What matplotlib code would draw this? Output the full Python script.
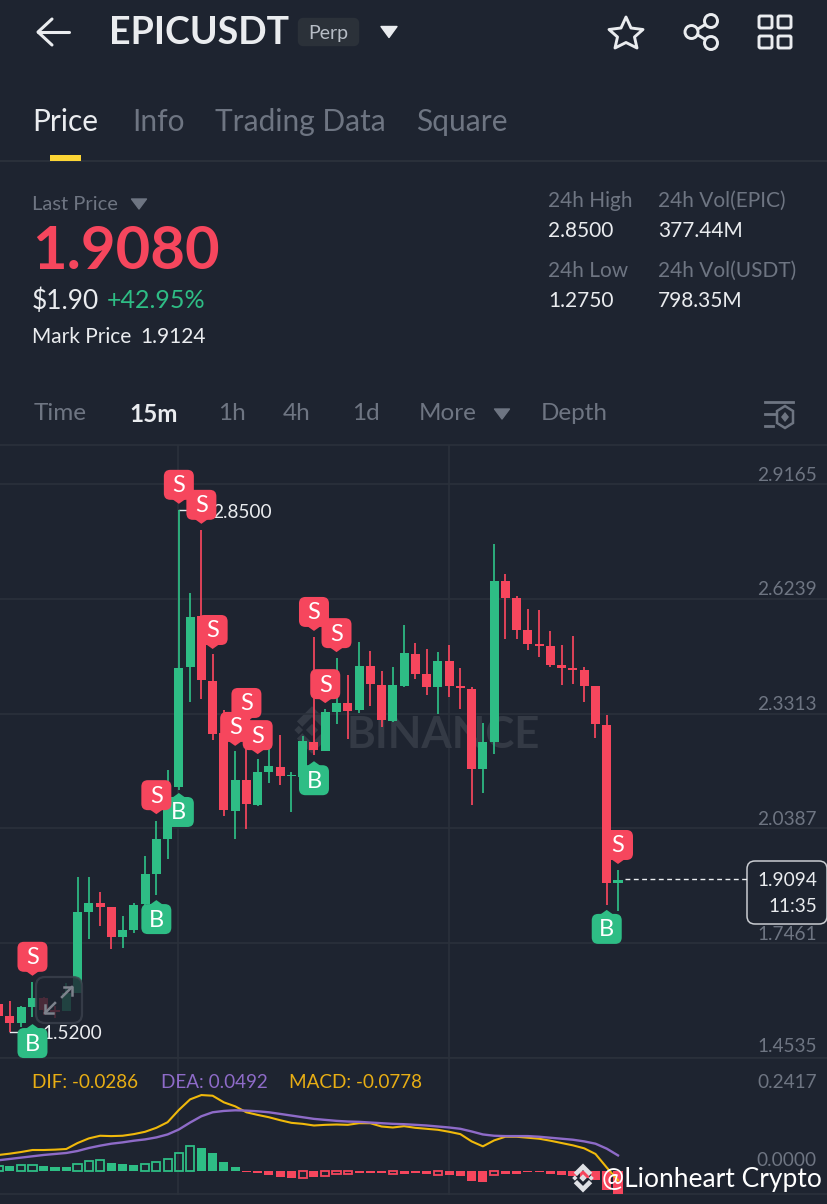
import matplotlib
matplotlib.use("Agg")
import matplotlib.pyplot as plt
from matplotlib.patches import FancyBboxPatch, Polygon, Circle, Rectangle

plt.rcParams['font.family'] = ['Lato', 'DejaVu Sans']

# ---------- data ----------
opens = [1.591,1.561,1.543,1.583,1.606,1.576,1.573,1.619,1.826,1.849,1.838,1.762,1.780,1.846,1.922,2.012,
         2.144,2.450,2.580,2.414,2.282,2.083,2.162,2.098,2.182,2.195,2.172,2.170,2.259,2.236,2.335,2.358,
         2.340,2.453,2.404,2.312,2.402,2.483,2.432,2.399,2.465,2.402,2.394,2.190,2.259,2.669,2.626,2.544,
         2.509,2.504,2.455,2.448,2.442,2.402,2.302,1.900]
highs = [1.601,1.599,1.586,1.647,1.609,1.586,1.645,1.915,1.915,1.877,1.838,1.815,1.849,1.968,2.058,2.188,
         2.850,2.639,2.799,2.483,2.340,2.236,2.264,2.216,2.246,2.277,2.182,2.274,2.527,2.343,2.473,2.430,
         2.514,2.491,2.440,2.450,2.557,2.511,2.496,2.488,2.506,2.448,2.399,2.307,2.764,2.687,2.631,2.598,
         2.595,2.542,2.506,2.529,2.450,2.402,2.328,1.933]
lows = [1.550,1.520,1.533,1.558,1.563,1.555,1.573,1.619,1.757,1.790,1.731,1.734,1.772,1.838,1.869,1.961,
        2.137,2.361,2.369,2.264,2.070,2.012,2.037,2.096,2.154,2.149,2.081,2.170,2.226,2.236,2.305,2.267,
        2.333,2.351,2.297,2.310,2.399,2.420,2.379,2.330,2.374,2.343,2.098,2.129,2.228,2.521,2.521,2.493,
        2.476,2.450,2.404,2.407,2.361,2.269,1.843,1.828]
closes = [1.561,1.543,1.583,1.606,1.576,1.571,1.619,1.826,1.849,1.838,1.762,1.780,1.843,1.922,2.012,2.106,
          2.448,2.577,2.417,2.279,2.086,2.162,2.101,2.182,2.198,2.172,2.176,2.261,2.238,2.335,2.358,2.338,
          2.453,2.407,2.315,2.404,2.486,2.432,2.399,2.465,2.402,2.397,2.190,2.259,2.669,2.626,2.544,2.509,
          2.504,2.455,2.448,2.442,2.402,2.305,1.900,1.907]

dif = [.0506,.0548,.0599,.0661,.0661,.0672,.0692,.0878,.1023,.1106,.1095,.1106,.1157,.1230,.1354,.1529,
       .1912,.2242,.2377,.2356,.2149,.2025,.1839,.1757,.1684,.1591,.1509,.1478,.1426,.1447,.1457,.1447,
       .1498,.1498,.1395,.1364,.1405,.1354,.1323,.1292,.1230,.1157,.0930,.0775,.0961,.1075,.1075,.1044,
       .1013,.0951,.0878,.0806,.0713,.0537,.0114,-.0286]
dea = [.0341,.0382,.0424,.0465,.0506,.0537,.0568,.0630,.0723,.0796,.0858,.0899,.0951,.0992,.1054,.1147,
       .1302,.1519,.1715,.1839,.1881,.1901,.1891,.1870,.1839,.1788,.1736,.1684,.1633,.1602,.1571,.1550,
       .1540,.1519,.1498,.1478,.1467,.1447,.1426,.1395,.1364,.1323,.1240,.1147,.1106,.1095,.1095,.1095,
       .1075,.1044,.1013,.0982,.0930,.0858,.0703,.0492]
macd = [.0175,.0175,.0196,.0196,.0165,.0134,.0134,.0237,.0319,.0350,.0268,.0227,.0206,.0227,.0288,.0381,
        .0577,.0772,.0711,.0556,.0278,.0134,-.0041,-.0072,-.0113,-.0175,-.0206,-.0206,-.0175,-.0144,-.0103,-.0103,
        -.0072,-.0052,-.0052,-.0103,-.0082,-.0052,-.0082,-.0113,-.0113,-.0155,-.0309,-.0350,-.0134,-.0093,-.0082,-.0041,
        -.0041,-.0082,-.0113,-.0144,-.0206,-.0288,-.0577,-.0778]
macd_hollow = [0,2,3,7,8,9,13,14,15,16,17,27,29,30,31,35,39,44]

price_ticks = [2.9165, 2.6239, 2.3313, 2.0387, 1.7461, 1.4535]
macd_ticks = [0.2417, 0.0]

sell_idx = [16, 18, 19, 22, 21, 23, 14, 3, 28, 30, 29, 55]
sell_price = [2.866, 2.815, 2.496, 2.310, 2.249, 2.228, 2.075, 1.663, 2.542, 2.488, 2.358, 1.948]
buy_idx = [16, 14, 28, 54, 3]
buy_price = [2.129, 1.856, 2.210, 1.831, 1.540]

high_idx, high_val = 16, 2.85
low_idx, low_val = 1, 1.52
last_price = 1.9094

# ---------- style ----------
BG = '#1e2430'
GRID = '#2b313b'
RED = '#f6465d'
GREEN = '#2ebd85'
GRAY = '#6e7582'
WHITE = '#eaecef'
W, H = 828, 1204

fig = plt.figure(figsize=(W/100, H/100), dpi=100, facecolor=BG)

def axpx(top, bottom, z):
    a = fig.add_axes([0, 1-bottom/H, 1, (bottom-top)/H], zorder=z)
    a.patch.set_alpha(0)
    a.set_xticks([]); a.set_yticks([])
    for s in a.spines.values():
        s.set_visible(False)
    return a

base = axpx(0, H, 0)
base.set_xlim(0, W); base.set_ylim(H, 0)
ax = axpx(446, 1058, 1)
mx = axpx(1059, 1194, 1)
ov = axpx(0, H, 3)
ov.set_xlim(0, W); ov.set_ylim(H, 0)

XL = (0.1155, 73.65)
ax.set_xlim(*XL); ax.set_ylim(1.4535, 3.0134)
mx.set_xlim(*XL); mx.set_ylim(-0.0713, 0.3503)

# ---------- UI text helper ----------
def T(x, y, s, size, color=WHITE, weight='normal', ha='left', a=None):
    (a or ov).text(x, y+2, s, fontsize=size, color=color, weight=weight, ha=ha, va='center')

def tri(x, y, w, h, color, a=None):
    (a or ov).add_patch(Polygon([(x-w/2, y-h/2), (x+w/2, y-h/2), (x, y+h/2)], closed=True, fc=color, ec=color, lw=1, joinstyle='round'))

def logo(a, cx, cy, s, color, alpha=1.0, z=2):
    def dia(x, y, r):
        a.add_patch(Polygon([(x-r, y), (x, y-r), (x+r, y), (x, y+r)], closed=True, fc=color, ec='none', alpha=alpha, zorder=z))
    dia(cx, cy, s*.17); dia(cx-s*.37, cy, s*.12); dia(cx+s*.37, cy, s*.12)
    for sgn in (-1, 1):
        a.add_patch(Polygon([(cx-s*.42, cy+sgn*s*.24), (cx, cy+sgn*s*.66), (cx+s*.42, cy+sgn*s*.24),
                             (cx+s*.27, cy+sgn*s*.09), (cx, cy+sgn*s*.36), (cx-s*.27, cy+sgn*s*.09)],
                            closed=True, fc=color, ec='none', alpha=alpha, zorder=z))

# ---------- header ----------
ov.plot([38, 69], [32, 32], color=WHITE, lw=2.2, solid_capstyle='round')
ov.plot([52, 38, 52], [19, 32, 45], color=WHITE, lw=2.2, solid_capstyle='round', solid_joinstyle='round')
T(109, 31, 'EPICUSDT', 27, WHITE, 'bold')
ov.add_patch(FancyBboxPatch((302, 22), 53, 20, boxstyle='round,pad=0,rounding_size=1', fc='#2b3139', ec='#2b3139', lw=6, joinstyle='round'))
T(328.5, 31, 'Perp', 14, '#b7bdc6', ha='center')
tri(389, 32, 16, 11, WHITE)
star = [(626, 17), (631, 28), (643, 29.5), (634.5, 37), (637, 48), (626, 42.5), (615, 48), (617.5, 37), (609, 29.5), (621, 28)]
ov.add_patch(Polygon(star, closed=True, fc='none', ec=WHITE, lw=2.1, joinstyle='round'))
ov.plot([693, 711], [32, 21], color=WHITE, lw=2.1)
ov.plot([693, 711], [32, 43], color=WHITE, lw=2.1)
for cx, cy, r in [(691.5, 32, 6.5), (711, 21, 6.5), (711, 43, 6.5)]:
    ov.add_patch(Circle((cx, cy), r, fc=BG, ec=WHITE, lw=2.1, zorder=3))
for gx, gy in [(759, 16), (778, 16), (759, 36), (778, 36)]:
    ov.add_patch(FancyBboxPatch((gx, gy), 13, 12, boxstyle='round,pad=0,rounding_size=1.5', fc='none', ec=WHITE, lw=2.1))

T(32, 120, 'Price', 21.5, WHITE)
T(132, 120, 'Info', 21.5, GRAY)
T(215, 120, 'Trading Data', 21.5, GRAY)
T(416, 120, 'Square', 21.5, GRAY)
ov.add_patch(Rectangle((50, 155), 31, 5.5, fc='#fcd535', ec='none'))
base.plot([0, W], [161, 161], color=GRID, lw=1.4)

T(32, 202, 'Last Price', 14.5, GRAY)
tri(139, 204, 15, 10, GRAY)
T(32, 250, '1.9080', 43, RED, 'bold')
T(32, 299, '$1.90', 19, WHITE)
T(107, 299, '+42.95%', 18, GREEN)
T(32, 335, 'Mark Price', 15, WHITE)
T(140, 335, '1.9124', 15, WHITE)
for x, y, s, c in [(548, 199, '24h High', GRAY), (548, 229, '2.8500', WHITE), (548, 269, '24h Low', GRAY), (548, 299, '1.2750', WHITE),
                   (658, 199, '24h Vol(EPIC)', GRAY), (658, 229, '377.44M', WHITE), (658, 269, '24h Vol(USDT)', GRAY), (658, 299, '798.35M', WHITE)]:
    T(x, y, s, 15, c)

for x, s, c, wt in [(34, 'Time', GRAY, 'normal'), (129, '15m', WHITE, 'bold'), (218, '1h', GRAY, 'normal'), (283, '4h', GRAY, 'normal'),
                    (352, '1d', GRAY, 'normal'), (419, 'More', GRAY, 'normal'), (541, 'Depth', GRAY, 'normal')]:
    T(x, 412, s, 17.5, c, wt)
tri(502, 414, 15, 10, GRAY)
ov.plot([765, 793], [402, 402], color=GRAY, lw=2)
ov.plot([765, 776], [414, 414], color=GRAY, lw=2)
ov.plot([765, 773], [426, 426], color=GRAY, lw=2)
ov.add_patch(Polygon([(785, 406), (793, 411), (793, 423), (785, 428), (777, 423), (777, 411)], closed=True, fc=BG, ec=GRAY, lw=1.8, zorder=3))
ov.add_patch(Polygon([(785, 412), (789, 417), (785, 422), (781, 417)], closed=True, fc=GRAY, ec='none', zorder=4))

# ---------- frame and grid ----------
base.plot([0, W], [445, 445], color=GRID, lw=1.2)
base.plot([0, W], [1058, 1058], color=GRID, lw=1.2)
base.plot([0, W], [1194, 1194], color=GRID, lw=1.2)
for vx in (178.5, 449):
    base.plot([vx, vx], [446, 1194], color=GRID, lw=1.2)

for i, p in enumerate(price_ticks):
    ax.axhline(p, color=GRID, lw=1.2, zorder=0.5)
    off = 11 if i == 5 else 9
    ax.annotate(f'{p:.4f}', xy=(1, p), xycoords=('axes fraction', 'data'), xytext=(-11*.72, off*.72), textcoords='offset points',
                ha='right', va='center', fontsize=13.7, color=GRAY, annotation_clip=False)
for v in macd_ticks:
    mx.annotate(f'{v:.4f}', xy=(1, v), xycoords=('axes fraction', 'data'), xytext=(-11*.72, 11*.72), textcoords='offset points',
                ha='right', va='center', fontsize=13.7, color=GRAY, annotation_clip=False)

# ---------- watermark ----------
logo(base, 312, 730, 36, '#343a45')
base.text(347, 735, 'BINANCE', fontsize=31.5, weight='bold', color='#343a45', ha='left', va='center')

# ---------- candles ----------
idx = list(range(len(opens)))
cols = [GREEN if c >= o else RED for o, c in zip(opens, closes)]
ax.vlines(idx, lows, highs, colors=cols, lw=1.25, zorder=2)
ax.bar(idx, [abs(c-o) for o, c in zip(opens, closes)], bottom=[min(o, c) for o, c in zip(opens, closes)],
       width=0.8, color=cols, linewidth=0, zorder=3)

# ---------- high / low labels ----------
ax.plot([high_idx, high_idx+2.4], [high_val, high_val], color=WHITE, lw=1, zorder=1.5)
ax.annotate(f'{high_val:.4f}', xy=(high_idx, high_val), xytext=(33*.72, -2), textcoords='offset points', color=WHITE, fontsize=13.7, va='center', zorder=1.5)
ax.plot([low_idx, low_idx+2.5], [low_val, low_val], color=WHITE, lw=1, zorder=1.5)
ax.annotate(f'{low_val:.4f}', xy=(low_idx, low_val), xytext=(32*.72, -1.5), textcoords='offset points', color=WHITE, fontsize=13.7, va='center', zorder=1.5)

# ---------- MACD ----------
mx.plot(idx, dif, color='#f0b90b', lw=1.5, zorder=3)
mx.plot(idx, dea, color='#8e6bc8', lw=1.7, zorder=3)
for i, v in enumerate(macd):
    c = GREEN if v >= 0 else RED
    if i in macd_hollow:
        mx.bar(i, v, width=0.72, fc='none', ec=c, lw=1.3, zorder=2)
    else:
        mx.bar(i, v, width=0.8, color=c, lw=0, zorder=2)
T(32, 1080, 'DIF: -0.0286', 13.6, '#e8ae14')
T(161, 1080, 'DEA: 0.0492', 13.6, '#8e6bc8')
T(289, 1080, 'MACD: -0.0778', 13.6, '#e8ae14')

# ---------- zoom button ----------
ov.add_patch(FancyBboxPatch((36, 977), 46, 46, boxstyle='round,pad=0,rounding_size=9', fc=BG, ec='#3c424d', lw=1.6, alpha=0.8, zorder=2))
AC = '#7d828c'
ov.plot([55, 45], [1003, 1013], color=AC, lw=1.8, zorder=2.1)
ov.plot([45, 45, 53], [1005, 1013, 1013], color=AC, lw=1.8, zorder=2.1)
ov.plot([62, 72], [997, 987], color=AC, lw=1.8, zorder=2.1)
ov.plot([64, 72, 72], [987, 987, 995], color=AC, lw=1.8, zorder=2.1)

# ---------- trade markers ----------
def marker(i, price, kind):
    xd, yd = ax.transData.transform((i, price))
    px, py = xd, H - yd
    col = RED if kind == 'S' else GREEN
    sgn = 1 if kind == 'S' else -1
    cy = py - sgn*19
    ov.add_patch(FancyBboxPatch((px-15, cy-15), 30, 30, boxstyle='round,pad=0,rounding_size=6.5', fc=col, ec='none', zorder=5))
    ov.add_patch(Polygon([(px-7, cy+sgn*14), (px+7, cy+sgn*14), (px, py)], closed=True, fc=col, ec='none', zorder=5))
    ov.text(px, cy+1, kind, fontsize=17, color='white', ha='center', va='center', zorder=5)

for i, p in zip(sell_idx, sell_price):
    if i not in (14, 3):
        marker(i, p, 'S')
for i, p in zip(buy_idx, buy_price):
    marker(i, p, 'B')
for i, p in zip(sell_idx, sell_price):
    if i in (14, 3):
        marker(i, p, 'S')

# ---------- last price ----------
xl, yl = ax.transData.transform((55, last_price))
ypx = H - yl
ov.plot([xl+7, 747], [ypx, ypx], color=WHITE, lw=1, dashes=(3.5, 2.5))
ov.add_patch(FancyBboxPatch((747, 861), 80, 63, boxstyle='round,pad=0,rounding_size=8', fc=BG, ec='#c9ccd1', lw=1.1))
T(817, 878, f'{last_price:.4f}', 13.7, WHITE, ha='right')
T(817, 904, '11:35', 13.7, WHITE, ha='right')

# ---------- corner credit ----------
logo(ov, 583, 1178, 22, '#dfe1e5', z=6)
ov.text(602, 1180, '@Lionheart Crypto', fontsize=19, color='white', ha='left', va='center', zorder=6)

fig.savefig('out.png', dpi=100, facecolor=BG)
